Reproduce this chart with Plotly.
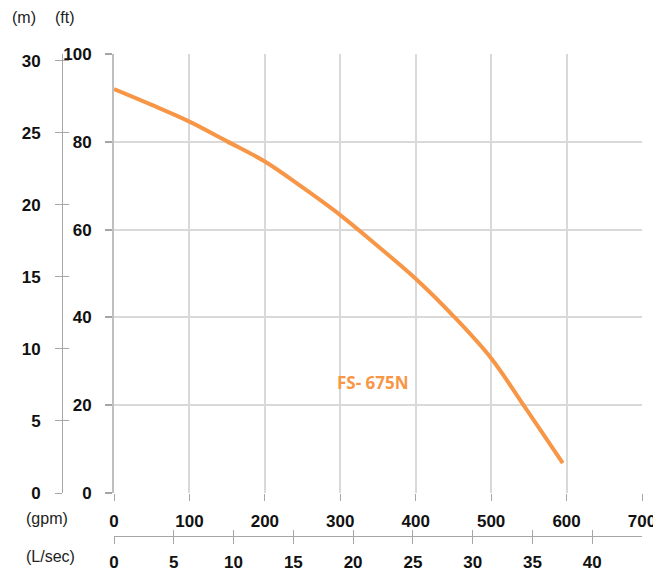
import plotly.graph_objects as go

# ---- data ----
flow_gpm = [0, 50, 100, 150, 200, 250, 300, 350, 400, 450, 500, 545, 595]
head_ft = [92.0, 88.4, 84.6, 80.1, 75.5, 69.6, 63.3, 56.2, 48.8, 40.3, 30.7, 19.5, 6.8]
series_name = "FS- 675N"

gpm_ticks = [0, 100, 200, 300, 400, 500, 600, 700]
ft_ticks = [0, 20, 40, 60, 80, 100]
m_ticks = [0, 5, 10, 15, 20, 25, 30]
lsec_ticks = [0, 5, 10, 15, 20, 25, 30, 35, 40]

GPM_MAX = 700
FT_MAX = 100
M_PER_FT = 0.3048
LSEC_PER_GPM = 0.0630902

# ---- layout geometry (pixels in the 661x576 window) ----
OFF = 8  # default page body margin
W, H = 661 - OFF, 576 - OFF
ML, MR, MT, MB = 2, 19, 46, 5
PW = W - ML - MR
PH = H - MT - MB


def px_x(px):
    return (px - OFF - ML) / PW


def px_y(py):
    return (H - MB - (py - OFF)) / PH


x_dom = [px_x(114), 1]
y_dom = [px_y(493), 1]

orange = "#F79646"
grid = "#d9d9d9"
axisgray = "#a6a6a6"
tickfont = dict(family="Liberation Sans, Arial, sans-serif", size=17, color="#111111", weight="bold")
unitfont = dict(family="Liberation Sans, Arial, sans-serif", size=16, color="#222222")

fig = go.Figure()
fig.add_trace(go.Scatter(
    x=flow_gpm, y=head_ft, mode="lines",
    line=dict(color=orange, width=4, shape="spline", smoothing=1.0),
    showlegend=False, hoverinfo="skip",
))
# invisible traces to activate secondary axes
fig.add_trace(go.Scatter(x=[0], y=[0], xaxis="x2", yaxis="y2", mode="markers",
                         marker=dict(opacity=0), showlegend=False, hoverinfo="skip"))
fig.add_trace(go.Scatter(x=[0], y=[0], xaxis="x3", yaxis="y3", mode="markers",
                         marker=dict(opacity=0), showlegend=False, hoverinfo="skip"))

fig.update_layout(
    width=W, height=H,
    margin=dict(l=ML, r=MR, t=MT, b=MB, autoexpand=False),
    paper_bgcolor="white", plot_bgcolor="white",
    xaxis=dict(
        domain=x_dom, range=[0, GPM_MAX], tickvals=gpm_ticks, automargin=False,
        showgrid=True, gridcolor=grid, gridwidth=2, zeroline=False,
        showline=False, ticks="outside", ticklen=7, tickcolor=axisgray, tickwidth=1,
        tickfont=tickfont, ticklabelstandoff=6, anchor="y",
    ),
    yaxis=dict(
        domain=y_dom, range=[0, FT_MAX], tickvals=ft_ticks, automargin=False,
        showgrid=True, gridcolor=grid, gridwidth=2, zeroline=False,
        showline=True, linecolor="#bfbfbf", linewidth=2,
        ticks="outside", ticklen=7, tickcolor=axisgray, tickwidth=2,
        tickfont=tickfont, ticklabelstandoff=10, anchor="x",
    ),
    # meter axis (outside ticks + labels)
    yaxis2=dict(
        domain=y_dom, range=[0, FT_MAX * M_PER_FT], tickvals=m_ticks, automargin=False,
        overlaying="y", anchor="free", position=px_x(62), side="left",
        showgrid=False, zeroline=False, showline=True, linecolor=axisgray, linewidth=1,
        ticks="outside", ticklen=7, tickcolor=axisgray, tickwidth=1,
        tickfont=tickfont, ticklabelstandoff=11,
    ),
    # meter axis inside ticks
    yaxis3=dict(
        domain=y_dom, range=[0, FT_MAX * M_PER_FT], tickvals=m_ticks, automargin=False,
        overlaying="y", anchor="free", position=px_x(62), side="left",
        showgrid=False, zeroline=False, showline=False,
        ticks="inside", ticklen=6, tickcolor=axisgray, tickwidth=1,
        showticklabels=False,
    ),
    # L/sec axis (outside ticks + labels)
    xaxis2=dict(
        domain=x_dom, range=[0, GPM_MAX * LSEC_PER_GPM], tickvals=lsec_ticks, automargin=False,
        overlaying="x", anchor="free", position=px_y(536), side="bottom",
        showgrid=False, zeroline=False, showline=True, linecolor=axisgray, linewidth=1,
        ticks="outside", ticklen=7, tickcolor=axisgray, tickwidth=1,
        tickfont=tickfont, ticklabelstandoff=4,
    ),
    xaxis3=dict(
        domain=x_dom, range=[0, GPM_MAX * LSEC_PER_GPM], tickvals=lsec_ticks, automargin=False,
        overlaying="x", anchor="free", position=px_y(536), side="bottom",
        showgrid=False, zeroline=False, showline=False,
        ticks="inside", ticklen=6, tickcolor=axisgray, tickwidth=1,
        showticklabels=False,
    ),
)

units = [("(m)", 24, 17), ("(ft)", 65, 17), ("(gpm)", 47, 518), ("(L/sec)", 50, 556)]
for txt, px, py in units:
    fig.add_annotation(text=txt, x=px_x(px), y=px_y(py), xref="paper", yref="paper",
                       showarrow=False, font=unitfont, xanchor="center", yanchor="middle")

fig.add_annotation(text=series_name, x=px_x(373), y=px_y(382),
                   xref="paper", yref="paper", showarrow=False,
                   font=dict(family="Open Sans, Lato, sans-serif", size=17, color=orange,
                             weight="bold"),
                   xanchor="center", yanchor="middle")

fig.write_html("out.html")
